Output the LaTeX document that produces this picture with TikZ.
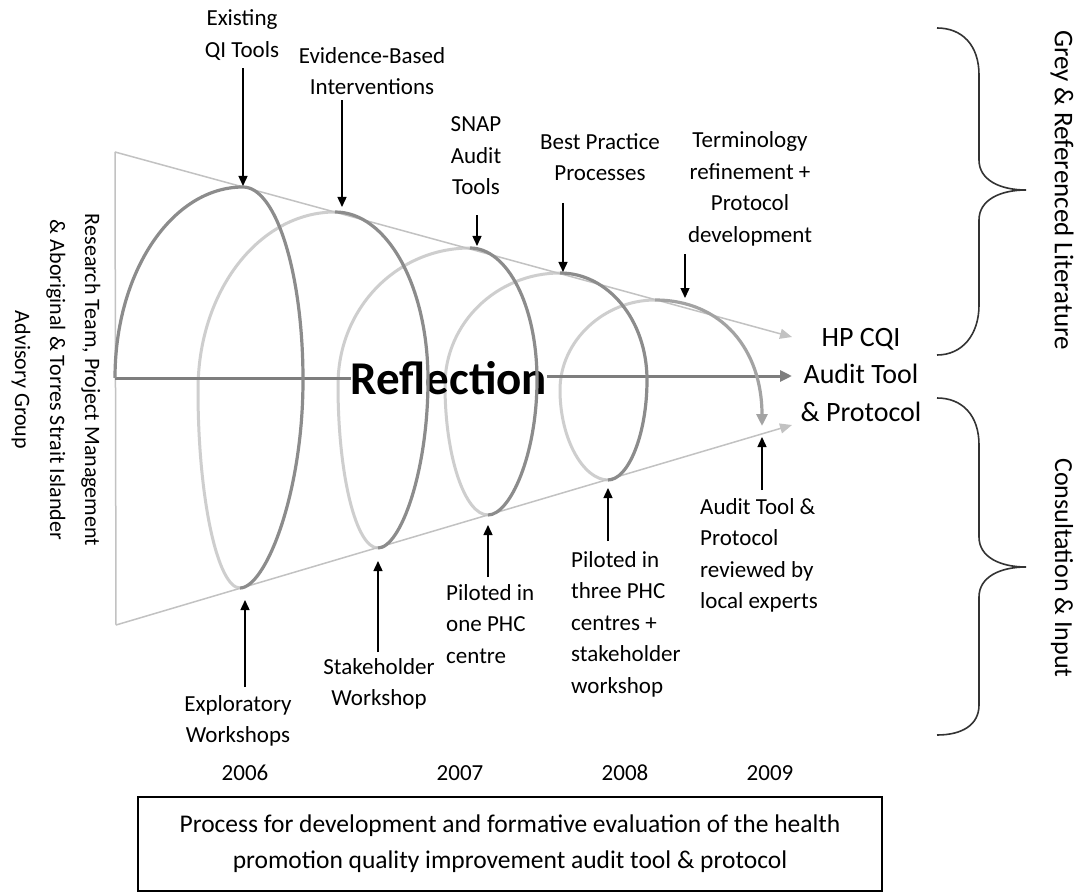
\documentclass[tikz,border=0pt]{standalone}
\usepackage{fontspec}
\setmainfont{Carlito}
\usetikzlibrary{arrows.meta}
\definecolor{frontc}{HTML}{8C8C8C}
\definecolor{backc}{HTML}{CECECE}
\definecolor{conec}{HTML}{C2C2C2}
\definecolor{axisc}{HTML}{7E7E7E}
\definecolor{bracec}{HTML}{333333}
\begin{document}
\begin{tikzpicture}[x=1pt,y=-1pt,
  lbl/.style={font=\fontsize{23}{31.5}\selectfont, inner sep=0pt, align=center},
  lbll/.style={lbl, align=left},
  pointer/.style={draw=black, line width=1.4pt, -{Triangle[width=9pt,length=10pt]}},
  front/.style={draw=frontc, line width=3.2pt},
  back/.style={draw=backc, line width=3pt},
  cone/.style={draw=conec, line width=1.5pt},
  conearrow/.style={cone, -{Triangle[width=10pt,length=12pt]}},
  axis/.style={draw=axisc, line width=3pt},
  bracepath/.style={draw=bracec, line width=1.6pt},
]
\useasboundingbox (0,0) rectangle (1081,893);
\fill[white] (0,0) rectangle (1081,893);

% cone
\coordinate (ctl) at (115,152);
\coordinate (cbl) at (116,625);
\coordinate (ctr) at (792,337);
\coordinate (cbr) at (792,425);
\coordinate (s0) at (115,378);
\coordinate (axend) at (792,376);

% spiral key points
\coordinate (t1) at (243,187);
\coordinate (t2) at (335,212);
\coordinate (t3) at (470,248);
\coordinate (t4) at (560,273);
\coordinate (t5) at (655,300);
\coordinate (b1) at (240,588);
\coordinate (b2) at (378,548);
\coordinate (b3) at (488,515);
\coordinate (b4) at (608,480);
\coordinate (send) at (762,426);

% back arcs
\draw[back] (b1) .. controls (218,588) and (198,500) .. (198,390) .. controls (198,290) and (260,212) .. (t2);
\draw[back] (b2) .. controls (356,548) and (338,475) .. (338,385) .. controls (338,308) and (397,248) .. (t3);
\draw[back] (b3) .. controls (465,515) and (445,457) .. (445,385) .. controls (445,323) and (497,273) .. (t4);
\draw[back] (b4) .. controls (584,480) and (560,440) .. (560,390) .. controls (560,340) and (605,300) .. (t5);

% cone edges
\draw[cone] (cbl) -- (ctl);
\draw[conearrow] (ctl) -- (ctr);
\draw[conearrow] (cbl) -- (cbr);

% reflection axis
\node[inner sep=0pt, font=\fontsize{47}{50}\selectfont\bfseries] (refl) at (449,378) {Reflection};
\draw[axis] (s0) -- (refl.west);
\draw[axis, -{Triangle[width=11pt,length=12pt]}] (refl.east |- axend) -- (axend);

% front arcs
\draw[front] (s0) .. controls (115,272) and (172,187) .. (t1) .. controls (276,187) and (303,273) .. (303,380) .. controls (303,495) and (265,588) .. (b1);
\draw[front] (t2) .. controls (387,212) and (428,286) .. (428,380) .. controls (428,473) and (400,548) .. (b2);
\draw[front] (t3) .. controls (507,248) and (537,305) .. (537,380) .. controls (537,455) and (510,515) .. (b3);
\draw[front] (t4) .. controls (608,273) and (647,320) .. (647,380) .. controls (647,435) and (628,480) .. (b4);
\draw[front, draw=frontc!80, -{Triangle[width=11pt,length=12pt]}] (t5) .. controls (722,300) and (762,350) .. (send);

% top labels
\node[lbl] (ex) at (242,35) {Existing\\QI Tools};
\node[lbl] (ebi) at (372,71) {Evidence-Based\\Interventions};
\node[lbl] (snap) at (476,156) {SNAP\\Audit\\Tools};
\node[lbl] (bpp) at (600,157) {Best Practice\\Processes};
\node[lbl] (term) at (750,189) {Terminology\\refinement +\\Protocol\\development};
\node[lbl, font=\fontsize{28}{37.5}\selectfont] (out) at (861,375) {HP CQI\\Audit Tool\\\& Protocol};

\coordinate (a1) at (243,186);
\coordinate (a2) at (342,207);
\coordinate (a3) at (477,246);
\coordinate (a4) at (563,272);
\coordinate (a5) at (685,298);
\draw[pointer, shorten <=8pt] (ex.south -| a1) -- (a1);
\draw[pointer, shorten <=5pt] (ebi.south -| a2) -- (a2);
\draw[pointer, shorten <=20pt] (snap.south -| a3) -- (a3);
\draw[pointer, shorten <=22pt] (bpp.south -| a4) -- (a4);
\draw[pointer, shorten <=8pt] (term.south -| a5) -- (a5);

% bottom labels
\node[lbl] (expl) at (238,721) {Exploratory\\Workshops};
\node[lbl] (stake) at (379,684) {Stakeholder\\Workshop};
\node[lbll, anchor=north west] (pil1) at (446,584) {Piloted in\\one PHC\\centre};
\node[lbll, anchor=north west] (pil3) at (571,551) {Piloted in\\three PHC\\centres +\\stakeholder\\workshop};
\node[lbll, anchor=north west] (rev) at (700,498) {Audit Tool \&\\Protocol\\reviewed by\\local experts};

\coordinate (c1) at (245,600);
\coordinate (c2) at (378,561);
\coordinate (c3) at (488,525);
\coordinate (c4) at (608,488);
\coordinate (c5) at (762,437);
\draw[pointer, shorten <=8pt] (expl.north -| c1) -- (c1);
\draw[pointer, shorten <=6pt] (stake.north -| c2) -- (c2);
\draw[pointer, shorten <=7pt] (pil1.north -| c3) -- (c3);
\draw[pointer, shorten <=10pt] (pil3.north -| c4) -- (c4);
\draw[pointer, shorten <=8pt] (rev.north -| c5) -- (c5);

% years
\node[lbl] (y6) at (245,773) {2006};
\node[lbl] (y7) at (460,773) {2007};
\node[lbl] (y8) at (625,773) {2008};
\node[lbl] (y9) at (770,773) {2009};

% caption
\node[draw=black, line width=1.2pt, minimum width=744pt, minimum height=94pt, inner sep=0pt,
      font=\fontsize{25.5}{36}\selectfont, align=center] (cap) at (510,844)
  {Process for development and formative evaluation of the health\\promotion quality improvement audit tool \& protocol};

% left rotated text
\node[lbl, rotate=-90, font=\fontsize{22}{35}\selectfont] (team) at (56,380)
  {Research Team, Project Management\\\& Aboriginal \& Torres Strait Islander\\Advisory Group};

% braces
\draw[bracepath] (937,28) .. controls (962,28) and (979,45) .. (979,75) -- (979,160)
  .. controls (979,180) and (1000,190) .. (1026,190)
  .. controls (1000,190) and (979,200) .. (979,220) -- (979,305)
  .. controls (979,335) and (962,355) .. (937,355);
\draw[bracepath] (937,398) .. controls (962,398) and (979,415) .. (979,445) -- (979,537)
  .. controls (979,557) and (1000,567) .. (1026,567)
  .. controls (1000,567) and (979,577) .. (979,597) -- (979,705)
  .. controls (979,725) and (962,735) .. (937,735);
\node[lbl, rotate=-90, font=\fontsize{27}{32}\selectfont] (lit) at (1062,190) {Grey \& Referenced Literature};
\node[lbl, rotate=-90, font=\fontsize{26}{32}\selectfont] (cons) at (1062,568) {Consultation \& Input};
\end{tikzpicture}
\end{document}
